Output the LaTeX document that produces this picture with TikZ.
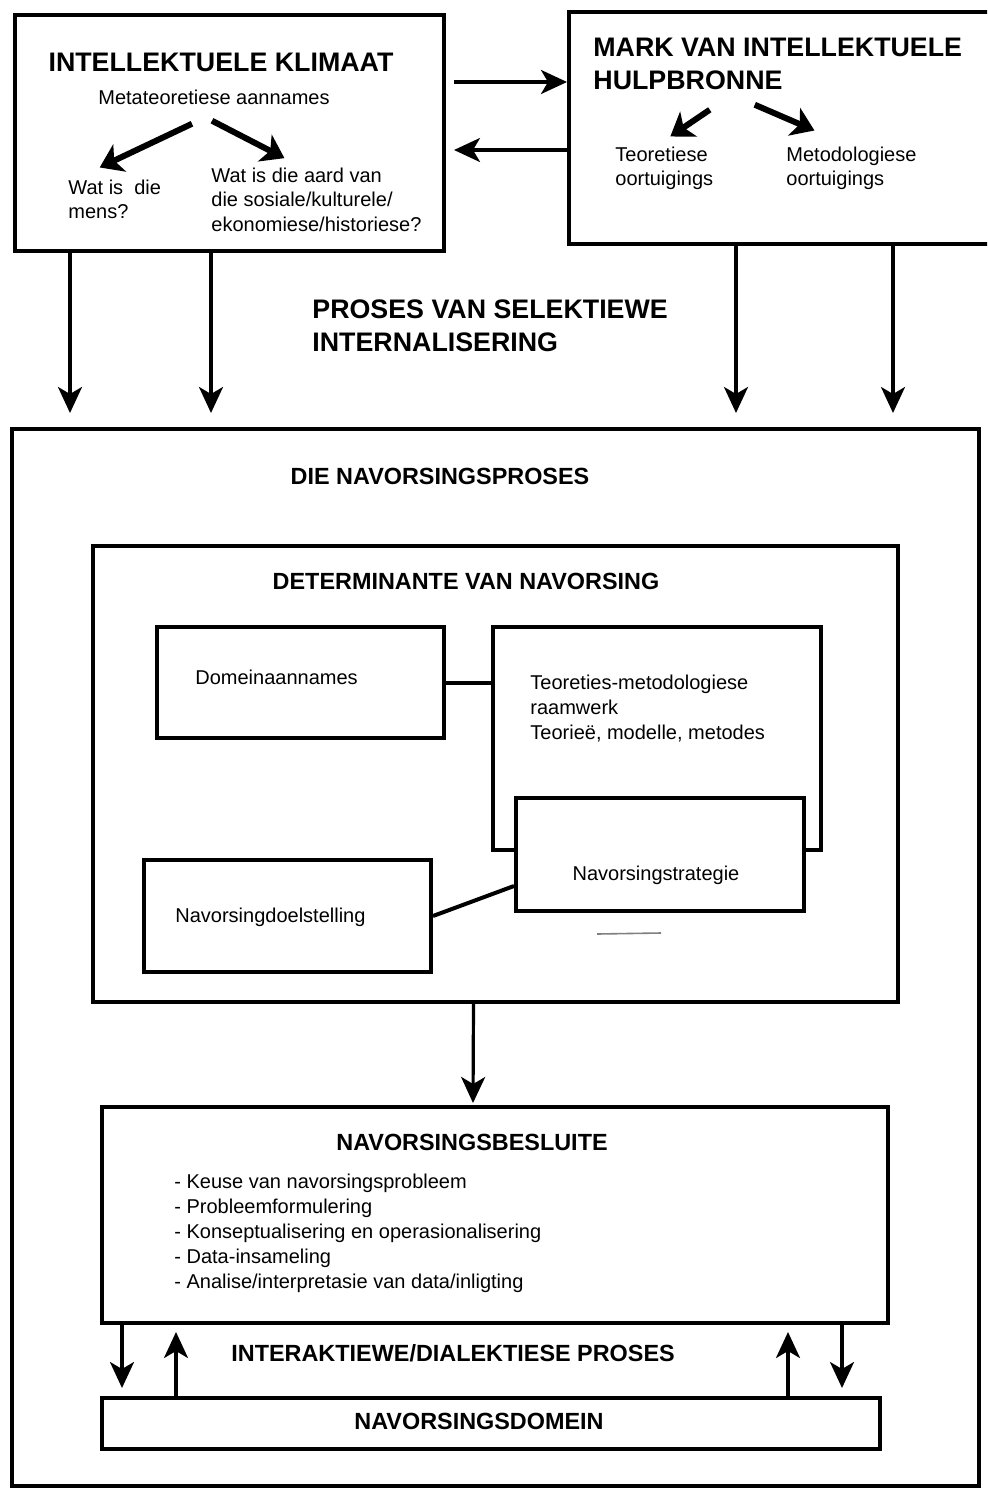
\documentclass[tikz,border=0pt]{standalone}
\usepackage{fontspec}
\setmainfont{Liberation Sans}
\usepackage{tikz}
\usetikzlibrary{calc}
\usetikzlibrary{arrows.meta}
\usetikzlibrary{positioning,fit}

\begin{document}
\begin{tikzpicture}[
x=0.5pt,y=-0.5pt,
MyBoxes/.style={draw=black,line width=2pt,inner sep=0pt,fill=white},
BigTitle/.style={font=\fontsize{13.4}{16.5}\selectfont\bfseries,inner sep=0pt,align=left},
MidTitle/.style={font=\fontsize{11.7}{14}\selectfont\bfseries,inner sep=0pt},
SmallText/.style={font=\fontsize{10}{12.3}\selectfont,inner sep=0pt,align=left},
MyArrows/.style={line width=1.6pt,-{Stealth[length=13pt,width=12pt,inset=3.5pt]}},
FatArrows/.style={line width=3pt,-{Stealth[length=11pt,width=15pt,inset=3pt]}}
]
\useasboundingbox (0,0) rectangle (987,1488);
\clip (0,0) rectangle (987,1488);
\fill[white] (0,0) rectangle (987,1488);

% top row: the two outside boxes
\node[MyBoxes, fit={(15,15) (444,251)}] (klimaat) {};
\node[MyBoxes, fit={(569,12) (996,244)}] (mark) {};

\node[BigTitle] (klimaatT) at (221,62) {INTELLEKTUELE KLIMAAT};
\node[SmallText] (meta) at (214,97) {Metateoretiese aannames};
\node[SmallText, anchor=west] (mens) at (68,199.5) {Wat is\ \ die\\mens?};
\node[SmallText, anchor=west] (aard) at (211,199.5) {Wat is die aard van\\die sosiale/kulturele/\\ekonomiese/historiese?};

\node[BigTitle, anchor=west] (markT) at (593,63.5) {MARK VAN INTELLEKTUELE\\HULPBRONNE};
\node[SmallText, anchor=west] (teor) at (615,168.5) {Teoretiese\\oortuigings};
\node[SmallText, anchor=west] (metod) at (786,168.5) {Metodologiese\\oortuigings};

\draw[FatArrows] ($(meta.south)+(-22,19)$) -- ($(mens.north)+(-15,-12)$);
\draw[FatArrows] ($(meta.south)+(-2,16)$) -- ($(aard.north)+(-32,-9)$);
\draw[FatArrows] ($(markT.south)+(-68,20)$) -- ($(teor.north)+(6,-10)$);
\draw[FatArrows] ($(markT.south)+(-23,15)$) -- ($(metod.north)+(-37,-16)$);

% between the two boxes
\draw[MyArrows, shorten <=4pt] ([yshift=25.5pt]klimaat.east) -- ([yshift=25.5pt]klimaat.east -| mark.west);
\draw[MyArrows, shorten >=4pt] ([yshift=-8.5pt]klimaat.east -| mark.west) -- ([yshift=-8.5pt]klimaat.east);

\node[BigTitle, anchor=west] (proses) at (312,326) {PROSES VAN SELEKTIEWE\\INTERNALISERING};

% the research process
\node[MyBoxes, fill=none, fit={(12,429) (979,1486)}] (outer) {};
\node[MidTitle] (outerT) at (440,476) {DIE NAVORSINGSPROSES};

\draw[MyArrows] ($(klimaat.south west)+(57,0)$) -- ($(outer.north west)+(60,-14)$);
\draw[MyArrows] ($(klimaat.south west)+(198,0)$) -- ($(outer.north west)+(201,-14)$);
\draw[MyArrows] ($(mark.south west)+(169,0)$) -- ($(outer.north west)+(726,-14)$);
\draw[MyArrows] ($(mark.south west)+(326,0)$) -- ($(outer.north west)+(883,-14)$);

\node[MyBoxes, fit={(93,546) (898,1002)}] (determ) {};
\node[MidTitle] (determT) at (466,581) {DETERMINANTE VAN NAVORSING};

\node[MyBoxes, fit={(157,627) (444,738)}] (domein) {};
\node[SmallText, anchor=west] (domeinT) at (195,677) {Domeinaannames};

\node[MyBoxes, fit={(493,627) (821,850)}] (raam) {};
\node[SmallText, anchor=west] (raamT) at (530,708.5) {Teoreties-metodologiese\\raamwerk\\Teorieë, modelle, metodes};

\node[MyBoxes, fit={(516,798) (804,911)}] (strat) {};
\node[SmallText] (stratT) at (656,875) {Navorsingstrategie};

\node[MyBoxes, fit={(144,860) (431,972)}] (doel) {};
\node[SmallText, anchor=west] (doelT) at (175,917) {Navorsingdoelstelling};

\draw[line width=2pt] (domein.east) -- (domein.east -| raam.west);
\draw[line width=2pt] (doel.east) -- ($(strat.west)+(0,31.5)$);
\draw[line width=0.8pt, gray] ($(strat.south)+(-63,21)$) -- ($(strat.south)+(1,20)$);

% decisions and domain
\node[MyBoxes, fit={(102,1107) (888,1323)}] (besluit) {};
\node[MidTitle] (besluitT) at (472,1142) {NAVORSINGSBESLUITE};
\node[SmallText, anchor=west, font=\fontsize{10}{12.5}\selectfont] (lys) at (174,1233)
  {- Keuse van navorsingsprobleem\\- Probleemformulering\\- Konseptualisering en operasionalisering\\- Data-insameling\\- Analise/interpretasie van data/inligting};

\draw[MyArrows] ($(determ.south)+(-22,0)$) -- ($(besluit.north)+(-22,-2)$);

\node[MyBoxes, fit={(102,1398) (880,1449)}] (navdomein) {};
\node[MidTitle] (navdomeinT) at (479,1421) {NAVORSINGSDOMEIN};
\node[MidTitle, anchor=west] (interT) at (231,1353) {INTERAKTIEWE/DIALEKTIESE PROSES};

\draw[MyArrows] ($(besluit.south west)+(22,0)$) -- ($(navdomein.north west)+(22,-8)$);
\draw[MyArrows] ($(navdomein.north west)+(76,0)$) -- ($(besluit.south west)+(76,7)$);
\draw[MyArrows] ($(navdomein.north west)+(688,0)$) -- ($(besluit.south west)+(688,7)$);
\draw[MyArrows] ($(besluit.south west)+(742,0)$) -- ($(navdomein.north west)+(742,-8)$);

\end{tikzpicture}
\end{document}
